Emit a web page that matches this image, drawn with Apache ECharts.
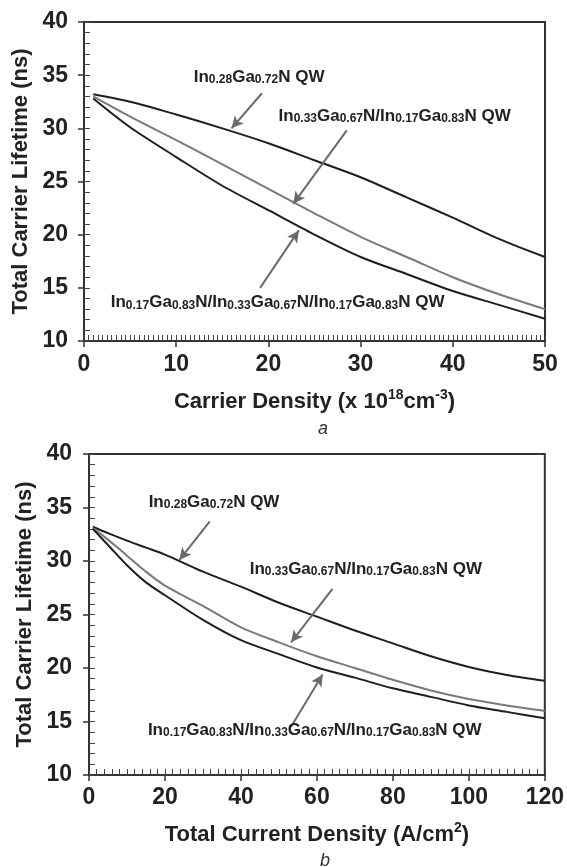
<!DOCTYPE html>
<html>
<head>
<meta charset="utf-8">
<script src="https://cdn.jsdelivr.net/npm/echarts@6/dist/echarts.min.js"></script>
<style>
html,body{margin:0;padding:0;background:#fff;}
#chart{width:567px;height:867px;}
</style>
</head>
<body>
<div id="chart"></div>
<script>
// ---- Panel a: lifetime vs carrier density ----
var densityA = [1, 5, 10, 15, 20, 25, 30, 35, 40, 45, 50];
var qw028A   = [33.2, 32.5, 31.3, 30.0, 28.6, 27.0, 25.4, 23.5, 21.6, 19.6, 17.9];
var qw033A   = [33.0, 31.1, 28.9, 26.6, 24.3, 22.0, 19.8, 17.9, 16.0, 14.4, 13.0];
var qw017A   = [32.8, 30.1, 27.3, 24.6, 22.3, 20.0, 17.9, 16.3, 14.7, 13.4, 12.1];

// ---- Panel b: lifetime vs total current density ----
var currentB = [1, 5, 10, 15, 20, 30, 40, 50, 60, 70, 80, 90, 100, 110, 120];
var qw028B   = [33.2, 32.6, 31.9, 31.25, 30.6, 29.0, 27.6, 26.1, 24.8, 23.5, 22.3, 21.1, 20.1, 19.35, 18.8];
var qw033B   = [33.1, 32.0, 30.5, 29.0, 27.7, 25.8, 23.8, 22.4, 21.1, 20.0, 18.9, 17.9, 17.1, 16.5, 16.0];
var qw017B   = [33.0, 31.5, 29.6, 28.0, 26.8, 24.5, 22.6, 21.3, 20.05, 19.1, 18.1, 17.3, 16.5, 15.9, 15.3];

// annotation labels: [x, y] anchor (left edge, vertical middle)
var labelTexts = [
  '{m|In}{s|0.28}{m|Ga}{s|0.72}{m|N QW}',
  '{m|In}{s|0.33}{m|Ga}{s|0.67}{m|N/In}{s|0.17}{m|Ga}{s|0.83}{m|N QW}',
  '{m|In}{s|0.17}{m|Ga}{s|0.83}{m|N/In}{s|0.33}{m|Ga}{s|0.67}{m|N/In}{s|0.17}{m|Ga}{s|0.83}{m|N QW}'
];
var labelPosA = [[11.9, 34.8], [21.1, 31.1], [2.9, 13.6]];
var labelPosB = [[15.7, 35.5], [42.3, 29.2], [15.5, 14.2]];
// arrows: [tailX, tailY, headX, headY]
var arrowsA = [[19.3, 33.3, 16.0, 30.0], [28.5, 29.8, 22.7, 22.9], [19.1, 15.0, 23.3, 20.4]];
var arrowsB = [[31.8, 33.7, 23.8, 30.1], [64.1, 27.4, 53.2, 22.4], [53.2, 14.5, 61.5, 19.4]];

var xTicksA = {min: 0, max: 50, interval: 10, minor: 0.5};
var xTicksB = {min: 0, max: 120, interval: 20, minor: 2};
var yTicks  = {min: 10, max: 40, interval: 5, minor: 1};

var FONT = "'Liberation Sans', Arial, sans-serif";
var INK = '#1e1e1e';
var GRAY = '#7a7a7a';
var ARROW = '#6a6a6a';

var richLabel = {
  m: {fontFamily: FONT, fontWeight: 'bold', fontSize: 17, lineHeight: 17, color: '#222', verticalAlign: 'top'},
  s: {fontFamily: FONT, fontWeight: 'bold', fontSize: 12, lineHeight: 12, color: '#222', verticalAlign: 'bottom', padding: [9, 0, 0, 0]}
};

function zip(xs, ys) { return xs.map(function (x, i) { return [x, ys[i]]; }); }

function mainX(grid, t, margin, gap, name, nameRich) {
  return {
    type: 'value', gridIndex: grid, position: 'bottom', min: t.min, max: t.max, interval: t.interval,
    axisLine: {show: true, onZero: false, lineStyle: {color: '#333', width: 2}},
    axisTick: {show: true, inside: false, length: 6, lineStyle: {color: '#333', width: 1.5}},
    axisLabel: {margin: margin, fontFamily: FONT, fontWeight: 'bold', fontSize: 23, color: '#222'},
    splitLine: {show: false},
    name: name, nameLocation: 'middle', nameGap: gap,
    nameTextStyle: {fontFamily: FONT, fontWeight: 'bold', fontSize: 22, color: '#222', rich: nameRich}
  };
}
function minorX(grid, t) {
  return {
    type: 'value', gridIndex: grid, position: 'bottom', min: t.min, max: t.max, interval: t.minor,
    axisLine: {show: false}, axisLabel: {show: false}, splitLine: {show: false},
    axisTick: {show: true, inside: true, length: 6, lineStyle: {color: '#444', width: 1}}
  };
}
function mainY(grid, t, margin, gap) {
  return {
    type: 'value', gridIndex: grid, position: 'left', min: t.min, max: t.max, interval: t.interval,
    axisLine: {show: true, onZero: false, lineStyle: {color: '#333', width: 2}},
    axisTick: {show: true, inside: false, length: 6, lineStyle: {color: '#333', width: 1.5}},
    axisLabel: {margin: margin, fontFamily: FONT, fontWeight: 'bold', fontSize: 23, color: '#222'},
    splitLine: {show: false},
    name: 'Total Carrier Lifetime (ns)', nameLocation: 'middle', nameGap: gap, nameRotate: 90,
    nameTextStyle: {fontFamily: FONT, fontWeight: 'bold', fontSize: 22, color: '#222'}
  };
}
function minorY(grid, t) {
  return {
    type: 'value', gridIndex: grid, position: 'left', min: t.min, max: t.max, interval: t.minor,
    axisLine: {show: false}, axisLabel: {show: false}, splitLine: {show: false},
    axisTick: {show: true, inside: true, length: 6, lineStyle: {color: '#444', width: 1}}
  };
}

var supRich = {
  n: {fontFamily: FONT, fontWeight: 'bold', fontSize: 22, color: '#222', lineHeight: 25, verticalAlign: 'bottom'},
  p: {fontFamily: FONT, fontWeight: 'bold', fontSize: 14, color: '#222', lineHeight: 14, verticalAlign: 'top'}
};

function lineSeries(xi, yi, xs, ys, color, extra) {
  var s = {
    type: 'line', xAxisIndex: xi, yAxisIndex: yi, data: zip(xs, ys), smooth: 0.3,
    showSymbol: false, symbol: 'none', lineStyle: {color: color, width: 2}, silent: true, z: 3
  };
  if (extra) for (var k in extra) s[k] = extra[k];
  return s;
}
function arrowMark(arrs) {
  return {
    silent: true, symbol: ['none', 'arrow'], symbolSize: [9, 12],
    lineStyle: {color: ARROW, width: 2, type: 'solid'}, label: {show: false},
    data: arrs.map(function (a) { return [{coord: [a[0], a[1]]}, {coord: [a[2], a[3]]}]; })
  };
}
function labelMark(pos) {
  return {
    silent: true, symbol: 'circle', symbolSize: 0,
    label: {show: true, position: 'right', distance: 0, rich: richLabel,
      formatter: function (p) { return labelTexts[p.dataIndex]; }},
    data: pos.map(function (p) { return {coord: p}; })
  };
}

var option = {
  animation: false,
  backgroundColor: '#fff',
  grid: [
    {left: 84, right: 22, top: 22, height: 319, show: true, borderColor: '#333', borderWidth: 2, backgroundColor: 'transparent'},
    {left: 89, right: 20, top: 454, height: 321, show: true, borderColor: '#333', borderWidth: 2, backgroundColor: 'transparent'}
  ],
  xAxis: [
    mainX(0, xTicksA, 12, 47, '{n|Carrier Density (x 10}{p|18}{n|cm}{p|-3}{n|)}', supRich),
    minorX(0, xTicksA),
    mainX(1, xTicksB, 11, 46, '{n|Total Current Density (A/cm}{p|2}{n|)}', supRich),
    minorX(1, xTicksB)
  ],
  yAxis: [
    mainY(0, yTicks, 16, 49), minorY(0, yTicks),
    mainY(1, yTicks, 17, 50), minorY(1, yTicks)
  ],
  series: [
    lineSeries(0, 0, densityA, qw028A, INK, {markPoint: labelMark(labelPosA)}),
    lineSeries(0, 0, densityA, qw033A, GRAY),
    lineSeries(0, 0, densityA, qw017A, INK, {markLine: arrowMark(arrowsA)}),
    lineSeries(2, 2, currentB, qw028B, INK, {markPoint: labelMark(labelPosB)}),
    lineSeries(2, 2, currentB, qw033B, GRAY),
    lineSeries(2, 2, currentB, qw017B, INK, {markLine: arrowMark(arrowsB)})
  ],
  graphic: [
    {type: 'text', left: 318, top: 420, style: {text: 'a', font: "italic 18px " + FONT, fill: '#333'}},
    {type: 'text', left: 320, top: 852, style: {text: 'b', font: "italic 18px " + FONT, fill: '#333'}}
  ]
};

var chart = echarts.init(document.getElementById('chart'), null, {renderer: 'canvas'});
chart.setOption(option);
</script>
</body>
</html>
